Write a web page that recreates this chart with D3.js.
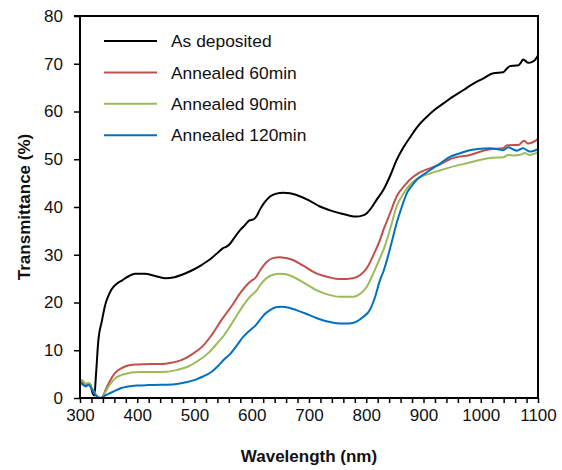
<!DOCTYPE html>
<html>
<head>
<meta charset="utf-8">
<script src="https://cdn.jsdelivr.net/npm/d3@7"></script>
<style>
  html, body { margin: 0; padding: 0; background: #fff; }
  svg { display: block; font-family: "Liberation Sans", Arial, sans-serif; }
</style>
</head>
<body>
<svg id="chart" width="562" height="470"></svg>
<script>
// ---- Data ----
const seriesNames = ["As deposited", "Annealed 60min", "Annealed 90min", "Annealed 120min"];
const seriesColors = ["#000000", "#C0504D", "#9BBB59", "#0070C0"];

const xTicks = [300, 400, 500, 600, 700, 800, 900, 1000, 1100];
const yTicks = [0, 10, 20, 30, 40, 50, 60, 70, 80];

const asDeposited = [
  [300,3.4],[305,3.0],[310,2.6],[315,3.0],[318,2.8],[322,1.0],[325,0.5],[328,5],[332,12],[338,16],
  [344,19.5],[350,21.5],[355,22.7],[365,24],[373,24.6],[385,25.5],[396,26],[413,26],[430,25.6],
  [448,25.1],[465,25.3],[478,25.8],[495,26.7],[513,27.9],[530,29.3],[542,30.6],[550,31.4],[556,31.7],
  [562,32.3],[571,33.8],[580,35.2],[588,36.2],[596,37.2],[603,37.4],[608,38.0],[614,39.4],[622,40.9],
  [632,42.2],[643,42.8],[655,43],[667,42.9],[678,42.5],[700,41.4],[719,40.1],[737,39.3],[754,38.7],
  [770,38.2],[783,38],[793,38.2],[801,38.7],[810,40],[818,41.5],[830,43.6],[842,46.6],[853,49.8],
  [865,52.5],[876,54.5],[890,56.9],[906,58.9],[920,60.4],[935,61.7],[950,63],[970,64.5],[985,65.7],
  [1004,66.9],[1022,68],[1039,68.2],[1045,68.9],[1051,69.5],[1058,69.6],[1066,69.7],[1070,70.2],
  [1074,70.9],[1078,70.6],[1083,70.2],[1090,70.4],[1095,70.8],[1100,71.8]
];
const annealed60 = [
  [300,3.6],[305,3.2],[310,2.8],[315,3.0],[320,2.0],[325,1.0],[330,0.3],[336,0],[340,0.4],[345,1.8],
  [352,3.5],[361,5.2],[372,6.2],[384,6.8],[396,7.0],[408,7.05],[425,7.1],[443,7.1],[460,7.4],[478,8],
  [495,9.1],[513,10.7],[530,13.2],[547,16.3],[556,17.8],[568,19.8],[580,22],[594,24],[600,24.6],
  [606,25.1],[615,26.8],[626,28.5],[637,29.3],[649,29.5],[660,29.3],[672,28.9],[690,27.7],[713,26.1],
  [735,25.3],[754,24.9],[777,25.1],[790,25.8],[801,27.2],[812,29.8],[824,33.1],[830,35.2],[842,38.8],
  [853,42.2],[865,44.2],[876,45.7],[890,47],[911,48.1],[930,49],[946,50],[981,50.9],[1016,52.1],
  [1039,52.3],[1045,52.9],[1060,53.0],[1066,53.0],[1072,53.6],[1076,53.9],[1082,53.3],[1090,53.5],[1100,54.2]
];
const annealed90 = [
  [300,3.9],[305,3.6],[310,3.0],[315,3.2],[320,2.2],[325,1.2],[330,0.4],[336,0],[340,0.3],[345,1.4],
  [352,2.8],[361,4.1],[372,4.8],[384,5.2],[396,5.4],[408,5.45],[430,5.45],[451,5.5],[470,5.9],[489,6.6],
  [505,7.7],[524,9.4],[540,11.5],[552,13.2],[562,15.0],[575,17.5],[590,20.2],[597,21.2],[609,22.6],
  [617,24],[626,25.1],[637,25.8],[649,26],[660,25.9],[672,25.4],[690,24.2],[713,22.6],[735,21.6],
  [754,21.2],[777,21.2],[790,21.9],[801,23.3],[812,26],[824,29.3],[830,31],[842,35.5],[853,40.1],
  [865,42.8],[876,44.6],[890,46],[911,47],[930,47.7],[946,48.3],[981,49.3],[1004,50],[1020,50.3],
  [1039,50.4],[1048,50.9],[1060,50.8],[1070,51],[1077,51.3],[1085,50.9],[1100,51.5]
];
const annealed120 = [
  [300,3.3],[305,2.8],[310,2.4],[315,2.8],[320,2.0],[325,1.0],[330,0.3],[335,0],[340,0.2],[345,0.6],
  [352,1.0],[361,1.5],[372,2.1],[384,2.4],[400,2.6],[419,2.7],[440,2.75],[466,2.9],[485,3.3],[501,3.8],
  [515,4.5],[530,5.5],[542,6.8],[552,8.1],[562,9.2],[575,11.2],[585,12.8],[597,14.2],[605,15],
  [614,16.3],[622,17.5],[632,18.4],[642,19],[652,19.1],[665,18.9],[678,18.4],[700,17.4],[719,16.5],
  [737,15.9],[754,15.6],[770,15.6],[783,16],[795,17],[806,18.4],[815,21],[824,24.7],[830,26.5],
  [842,31.5],[853,36.6],[862,40],[871,42.9],[880,44.5],[888,45.7],[900,46.8],[911,47.7],[930,49.2],
  [946,50.5],[965,51.3],[981,51.9],[1000,52.2],[1016,52.3],[1030,52.1],[1039,51.9],[1048,52.5],
  [1056,52.1],[1063,51.8],[1074,52.3],[1086,51.6],[1100,52.1]
];
const seriesData = [asDeposited, annealed60, annealed90, annealed120];

// ---- Layout ----
const svg = d3.select("#chart");
const margin = { left: 80, top: 16, right: 24, bottom: 72 };
const W = 562, H = 470;
const x0 = margin.left, x1 = W - margin.right, y0 = H - margin.bottom, y1 = margin.top;

const x = d3.scaleLinear().domain([300, 1100]).range([x0, x1]);
const y = d3.scaleLinear().domain([0, 80]).range([y0, y1]);

// ---- Lines ----
const line = d3.line()
  .x(d => x(d[0]))
  .y(d => y(d[1]))
  .curve(d3.curveMonotoneX);

svg.append("g").selectAll("path")
  .data(seriesData)
  .join("path")
  .attr("d", d => line(d))
  .attr("fill", "none")
  .attr("stroke", (d, i) => seriesColors[i])
  .attr("stroke-width", 2)
  .attr("stroke-linejoin", "round");

// ---- Frame (top & right) ----
svg.append("line").attr("x1", x0 - 6).attr("x2", x1 + 1).attr("y1", y1).attr("y2", y1)
  .attr("stroke", "#000").attr("stroke-width", 2);
svg.append("line").attr("x1", x1).attr("x2", x1).attr("y1", y1).attr("y2", y0)
  .attr("stroke", "#000").attr("stroke-width", 2);

// ---- Axes ----
const xMinor = d3.range(300, 1101, 20);
const xAxis = svg.append("g").attr("transform", `translate(0,${y0})`)
  .call(d3.axisBottom(x).tickValues(xMinor).tickSize(5).tickSizeOuter(0)
    .tickFormat(d => xTicks.includes(d) ? d : ""));
xAxis.select(".domain").attr("stroke-width", 2).attr("d", `M${x0 - 1},0H${x1 + 1}`);
xAxis.selectAll(".tick line").attr("stroke-width", 1.5);
xAxis.selectAll(".tick text").attr("font-size", 17).attr("fill", "#111")
  .attr("y", 11).attr("font-family", "Liberation Sans, Arial, sans-serif");

const yAxis = svg.append("g").attr("transform", `translate(${x0},0)`)
  .call(d3.axisLeft(y).tickValues(yTicks).tickSize(6).tickSizeOuter(0));
yAxis.select(".domain").attr("stroke-width", 2).attr("d", `M0,${y0 + 1}V${y1 - 1}`);
yAxis.selectAll(".tick line").attr("stroke-width", 1.5);
yAxis.selectAll(".tick text").attr("font-size", 17).attr("fill", "#111")
  .attr("x", -17).attr("font-family", "Liberation Sans, Arial, sans-serif");

// ---- Axis titles ----
svg.append("text")
  .attr("x", (x0 + x1) / 2).attr("y", 462)
  .attr("text-anchor", "middle")
  .attr("font-size", 17).attr("font-weight", "bold").attr("fill", "#111")
  .text("Wavelength (nm)");

svg.append("text")
  .attr("transform", `translate(30,${(y0 + y1) / 2}) rotate(-90)`)
  .attr("text-anchor", "middle")
  .attr("font-size", 17).attr("font-weight", "bold").attr("fill", "#111")
  .text("Transmittance (%)");

// ---- Legend ----
const legend = svg.append("g");
seriesNames.forEach((name, i) => {
  const ly = 41 + i * 31.4;
  legend.append("line").attr("x1", 104).attr("x2", 157).attr("y1", ly).attr("y2", ly)
    .attr("stroke", seriesColors[i]).attr("stroke-width", 2);
  legend.append("text").attr("x", 171).attr("y", ly).attr("dy", "0.36em")
    .attr("font-size", 17.4).attr("fill", "#111").text(name);
});
</script>
</body>
</html>
